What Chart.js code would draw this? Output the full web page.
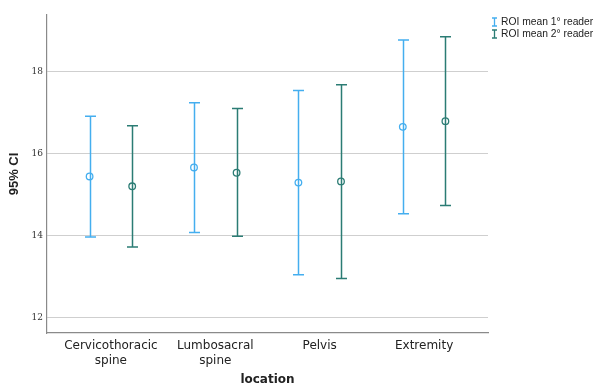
<!DOCTYPE html>
<html>
<head>
<meta charset="utf-8">
<script src="https://cdn.jsdelivr.net/npm/chart.js@4"></script>
<style>
html,body{margin:0;padding:0;background:#fff;}
#wrap{width:598px;height:387px;position:relative;}
</style>
</head>
<body>
<div id="wrap"><canvas id="c" width="598" height="387"></canvas></div>
<script>
const categories = [["Cervicothoracic","spine"],["Lumbosacral","spine"],"Pelvis","Extremity"];
const seriesNames = ["ROI mean 1° reader","ROI mean 2° reader"];
const mean1 = [15.44, 15.66, 15.29, 16.65];
const low1  = [13.96, 14.07, 13.04, 14.53];
const high1 = [16.91, 17.24, 17.54, 18.77];
const mean2 = [15.20, 15.53, 15.32, 16.79];
const low2  = [13.72, 13.98, 12.95, 14.73];
const high2 = [16.68, 17.10, 17.68, 18.85];
const yTicks = [12, 14, 16, 18];

const colors = ["#44aeef", "#2b7c74"];
const offset = 0.204;

function pts(means, lows, highs, sign){
  return means.map((m,i)=>({x:i+sign*offset, y:m, lo:lows[i], hi:highs[i]}));
}

const errorBars = {
  id:'errorBars',
  beforeDatasetsDraw(chart){
    const ctx = chart.ctx;
    const xs = chart.scales.x, ys = chart.scales.y;
    chart.data.datasets.forEach((ds)=>{
      ctx.save();
      ctx.strokeStyle = ds.borderColor;
      ctx.lineWidth = 1.5;
      ds.data.forEach(p=>{
        const px = Math.round(xs.getPixelForValue(p.x))+0.5;
        const yl = ys.getPixelForValue(p.lo);
        const yh = ys.getPixelForValue(p.hi);
        ctx.beginPath();
        ctx.moveTo(px, yh); ctx.lineTo(px, yl);
        ctx.moveTo(px-5.5, yh); ctx.lineTo(px+5.5, yh);
        ctx.moveTo(px-5.5, yl); ctx.lineTo(px+5.5, yl);
        ctx.stroke();
      });
      ctx.restore();
    });
  },
  afterDatasetsDraw(chart){
    const ctx = chart.ctx;
    ctx.save();
    ctx.font = '10.3px "Liberation Sans", sans-serif';
    ctx.textBaseline = 'middle';
    ctx.textAlign = 'left';
    seriesNames.forEach((name,i)=>{
      const y = 22 + i*12;
      ctx.strokeStyle = colors[i];
      ctx.lineWidth = 1.3;
      ctx.beginPath();
      ctx.moveTo(494.5, y-4); ctx.lineTo(494.5, y+4);
      ctx.moveTo(492, y-4); ctx.lineTo(497, y-4);
      ctx.moveTo(492, y+4); ctx.lineTo(497, y+4);
      ctx.stroke();
      ctx.fillStyle = '#222';
      ctx.fillText(name, 501, y);
    });
    ctx.restore();
  }
};

new Chart(document.getElementById('c'), {
  type: 'scatter',
  data: {
    datasets: [
      {label: seriesNames[0], data: pts(mean1, low1, high1, -1), borderColor: colors[0], backgroundColor: 'rgba(0,0,0,0)', pointRadius: 3.3, pointBorderWidth: 1.3, pointHoverRadius: 3.3},
      {label: seriesNames[1], data: pts(mean2, low2, high2, 1), borderColor: colors[1], backgroundColor: 'rgba(0,0,0,0)', pointRadius: 3.3, pointBorderWidth: 1.3, pointHoverRadius: 3.3}
    ]
  },
  options: {
    responsive: false,
    animation: false,
    events: [],
    layout: {padding: {top: 15, right: 110, left: 0, bottom: 0}},
    plugins: {legend: {display: false}, tooltip: {enabled: false}},
    scales: {
      x: {
        type: 'linear',
        min: -0.612, max: 3.612,
        afterBuildTicks(scale){ scale.ticks = categories.map((c,i)=>({value:i})); },
        afterFit(scale){ scale.height = 54; },
        grid: {display: false, drawTicks: false},
        border: {display: true, color: '#8a8a8a', width: 1.2},
        ticks: {
          callback: (v)=> categories[v],
          color: '#222',
          font: {family: '"DejaVu Sans", sans-serif', size: 12},
          padding: 6,
          maxRotation: 0, autoSkip: false
        },
        title: {display: true, text: 'location', color: '#222', font: {family: '"DejaVu Sans", sans-serif', size: 12, weight: 'bold'}, padding: {top: 0, bottom: 0}}
      },
      y: {
        min: 11.62, max: 19.38,
        afterBuildTicks(scale){ scale.ticks = yTicks.map(v=>({value:v})); },
        afterFit(scale){ scale.width = 47; },
        grid: {color: '#cfcfcf', lineWidth: 1, drawTicks: false},
        border: {display: true, color: '#8a8a8a', width: 1.2},
        ticks: {
          color: '#333',
          font: {family: '"DejaVu Serif", serif', size: 9},
          padding: 4
        },
        title: {display: true, text: '95% CI', color: '#222', font: {family: '"Liberation Sans", sans-serif', size: 13, weight: 'bold'}, padding: {top: 7, bottom: 0}}
      }
    }
  },
  plugins: [errorBars]
});
</script>
</body>
</html>
